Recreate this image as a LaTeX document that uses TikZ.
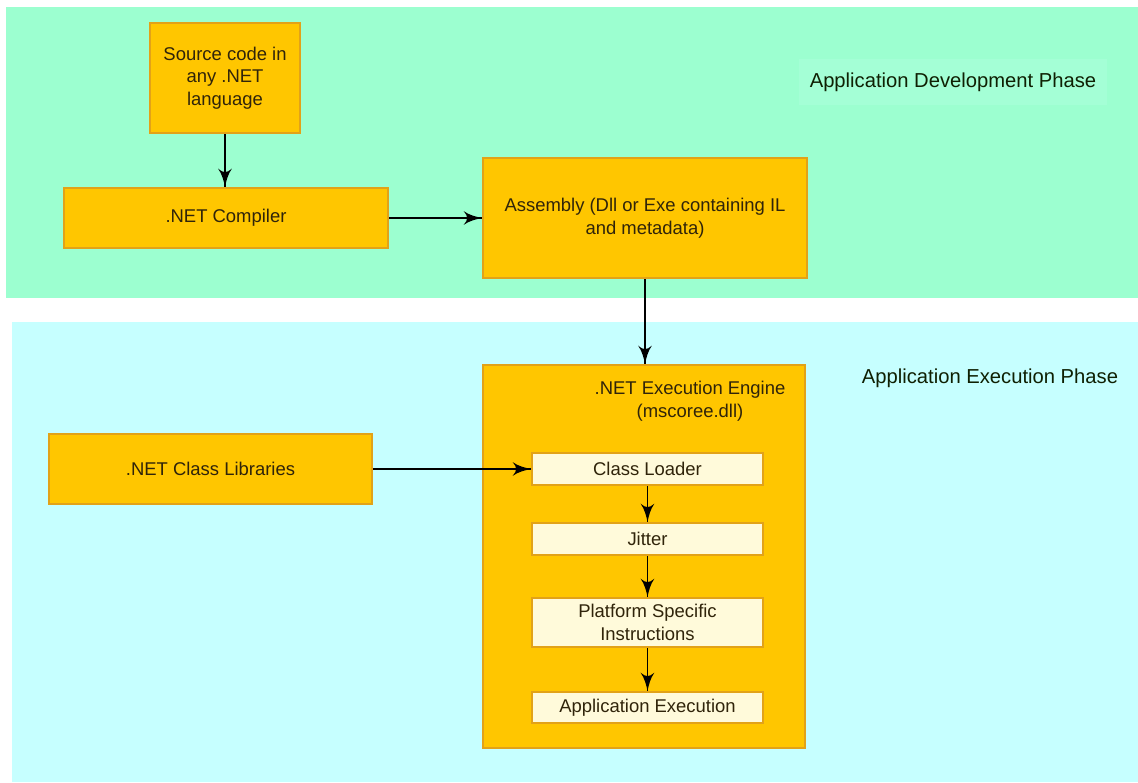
\documentclass[tikz,border=0pt]{standalone}
\usepackage{fontspec}
\setmainfont{Liberation Sans}
\usetikzlibrary{arrows}
\usetikzlibrary{decorations.markings}
\definecolor{devgreen}{RGB}{156,255,208}
\definecolor{labelgreen}{RGB}{164,255,214}
\definecolor{execyan}{RGB}{198,255,255}
\definecolor{boxfill}{RGB}{255,198,0}
\definecolor{boxedge}{RGB}{226,162,24}
\definecolor{unitfill}{RGB}{255,250,218}
\definecolor{ink}{RGB}{48,36,10}
\tikzset{feed/.style = {draw=black, line width=0.8pt,
                        decoration={markings,
                                    mark=at position 1 with {\arrow[scale=2]{latex'}}},
                        postaction={decorate}}}
\tikzset{stage/.style = {draw=boxedge, fill=boxfill, line width=1.2pt, text=ink,
                         align=center, inner sep=0pt,
                         font=\fontsize{10.5}{12.8}\selectfont}}
\tikzset{unit/.style = {stage, fill=unitfill, minimum width=4.62cm}}
\tikzset{phase/.style = {text=ink!80!green!40!black, inner xsep=6pt, inner ysep=8pt,
                         font=\fontsize{11.5}{13.5}\selectfont}}

\begin{document}
\begin{tikzpicture}
      \useasboundingbox [fill=white] (0, 0) rectangle (22.76, 15.64);
      % the two phases
      \fill [devgreen] (0.12, 9.68) rectangle (22.76, 15.50);
      \fill [execyan] (0.24, 0) rectangle (22.76, 9.20);
      \node [phase, fill=labelgreen] (devphase) at (19.06, 14.00) {Application Development Phase};
      \node [phase] (exephase) at (19.80, 8.08) {Application Execution Phase};
      % development
      \node [stage, minimum width=3cm, minimum height=2.2cm] (source) at (4.50, 14.08)
            {Source code in\\any .NET\\language};
      \node [stage, minimum width=6.48cm, minimum height=1.2cm] (compiler) at (4.52, 11.28)
            {.NET Compiler};
      \node [stage, minimum width=6.48cm, minimum height=2.4cm] (assembly) at (12.90, 11.28)
            {Assembly (Dll or Exe containing IL\\and metadata)};
      % execution
      \node [stage, minimum width=6.44cm, minimum height=7.66cm] (engine) at (12.88, 4.51) {};
      \node [text=ink, align=center, font=\fontsize{10.5}{12.8}\selectfont] (enginename)
            at (13.80, 7.62) {.NET Execution Engine\\(mscoree.dll)};
      \node [stage, minimum width=6.46cm, minimum height=1.4cm] (classlib) at (4.21, 6.26)
            {.NET Class Libraries};
      \node [unit, minimum height=0.64cm] (loader) at (12.95, 6.26) {Class Loader};
      \node [unit, minimum height=0.64cm] (jitter) at (12.95, 4.86) {Jitter};
      \node [unit, minimum height=0.98cm] (platform) at (12.95, 3.19)
            {Platform Specific\\Instructions};
      \node [unit, minimum height=0.62cm] (appexec) at (12.95, 1.49) {Application Execution};
      % flow
      \draw [feed] (source.south) -- (source.south |- compiler.north);
      \draw [feed] (compiler) -- (assembly);
      \draw [feed] (assembly.south) -- (assembly.south |- engine.north);
      \draw [feed] (classlib) -- (loader);
      \draw [feed] (loader) -- (jitter);
      \draw [feed] (jitter) -- (platform);
      \draw [feed] (platform) -- (appexec);
    \end{tikzpicture}
\end{document}
